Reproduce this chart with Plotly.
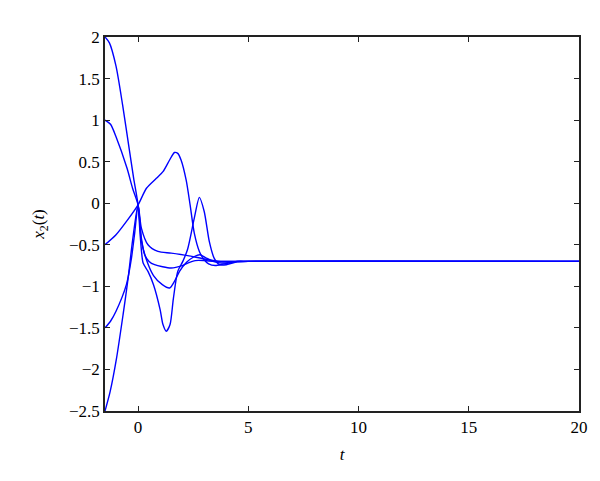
import plotly.graph_objects as go

# Curve A: starts at 2
tA = [-1.5, -1.3, -1.0, -0.7, -0.4, -0.2, 0.0, 0.1, 0.23, 0.45, 0.7, 1.0, 1.13, 1.28, 1.45, 1.6, 1.8, 2.03, 2.25, 2.55, 2.78, 3.0, 3.23, 3.45, 3.7, 4.0, 4.4, 5.0, 20.0]
yA = [2.0, 1.93, 1.65, 1.18, 0.65, 0.3, -0.02, -0.4, -0.72, -0.82, -0.98, -1.28, -1.46, -1.54, -1.46, -1.15, -0.82, -0.70, -0.55, -0.18, 0.07, -0.10, -0.46, -0.66, -0.74, -0.74, -0.71, -0.70, -0.70]

# Curve B: starts at 1
tB = [-1.5, -1.25, -1.0, -0.5, -0.25, 0.0, 0.15, 0.38, 0.7, 1.1, 1.43, 1.65, 1.88, 2.2, 2.5, 2.8, 3.1, 3.4, 3.8, 4.5, 5.0, 20.0]
yB = [1.0, 0.95, 0.8, 0.42, 0.18, -0.02, -0.45, -0.68, -0.87, -0.98, -1.02, -0.94, -0.82, -0.71, -0.65, -0.62, -0.66, -0.70, -0.72, -0.70, -0.70, -0.70]

# Curve C: starts at -0.5
tC = [-1.5, -1.0, -0.5, 0.0, 0.38, 0.83, 1.13, 1.43, 1.65, 1.8, 1.95, 2.18, 2.36, 2.55, 2.78, 3.0, 3.2, 3.5, 3.9, 4.5, 5.0, 20.0]
yC = [-0.5, -0.38, -0.21, -0.02, 0.18, 0.30, 0.38, 0.52, 0.61, 0.60, 0.52, 0.28, -0.02, -0.36, -0.58, -0.68, -0.73, -0.75, -0.73, -0.70, -0.70, -0.70]

# Curve D: starts at -1.5
tD = [-1.5, -1.25, -1.0, -0.53, -0.3, -0.15, 0.0, 0.15, 0.3, 0.5, 0.75, 1.5, 2.0, 2.25, 2.6, 3.0, 3.5, 5.0, 20.0]
yD = [-1.5, -1.42, -1.3, -0.98, -0.66, -0.35, -0.02, -0.42, -0.62, -0.70, -0.74, -0.78, -0.75, -0.72, -0.69, -0.69, -0.70, -0.70, -0.70]

# Curve E: starts at -2.5
tE = [-1.5, -1.27, -0.98, -0.68, -0.45, -0.25, 0.0, 0.15, 0.45, 0.9, 1.5, 2.25, 3.0, 3.75, 5.0, 20.0]
yE = [-2.5, -2.27, -1.87, -1.34, -0.90, -0.45, -0.02, -0.30, -0.50, -0.58, -0.60, -0.63, -0.67, -0.70, -0.70, -0.70]

xticks = [0, 5, 10, 15, 20]
yticks = [2, 1.5, 1, 0.5, 0, -0.5, -1, -1.5, -2, -2.5]

fig = go.Figure()
for t, y in [(tA, yA), (tB, yB), (tC, yC), (tD, yD), (tE, yE)]:
    fig.add_trace(go.Scatter(x=t, y=y, mode="lines",
                             line=dict(color="#0000ff", width=1.4, shape="spline", smoothing=0.7),
                             showlegend=False, hoverinfo="skip"))

font = dict(family="Liberation Serif, DejaVu Serif, serif", size=17, color="black")
axis_common = dict(showgrid=False, zeroline=False, showline=True, linecolor="#222222", linewidth=1.5,
                   mirror="ticks", ticks="inside", ticklen=5, tickcolor="#222222", tickwidth=1,
                   tickfont=font)

fig.update_layout(
    width=600, height=481,
    margin=dict(l=97, r=29, t=29, b=78),
    paper_bgcolor="white", plot_bgcolor="white",
    font=font,
    xaxis=dict(range=[-1.5, 20], tickvals=xticks, ticktext=[str(v) for v in xticks],
               title=dict(text="<i>t</i>", font=font, standoff=12), **axis_common),
    yaxis=dict(range=[-2.5, 2], tickvals=yticks, ticktext=[("\u2212" + str(abs(v))) if v < 0 else str(v) for v in yticks],
               title=dict(text="<i>x</i><sub>2</sub>(<i>t</i>)", font=font, standoff=20), **axis_common),
)

fig.write_html("out.html")
